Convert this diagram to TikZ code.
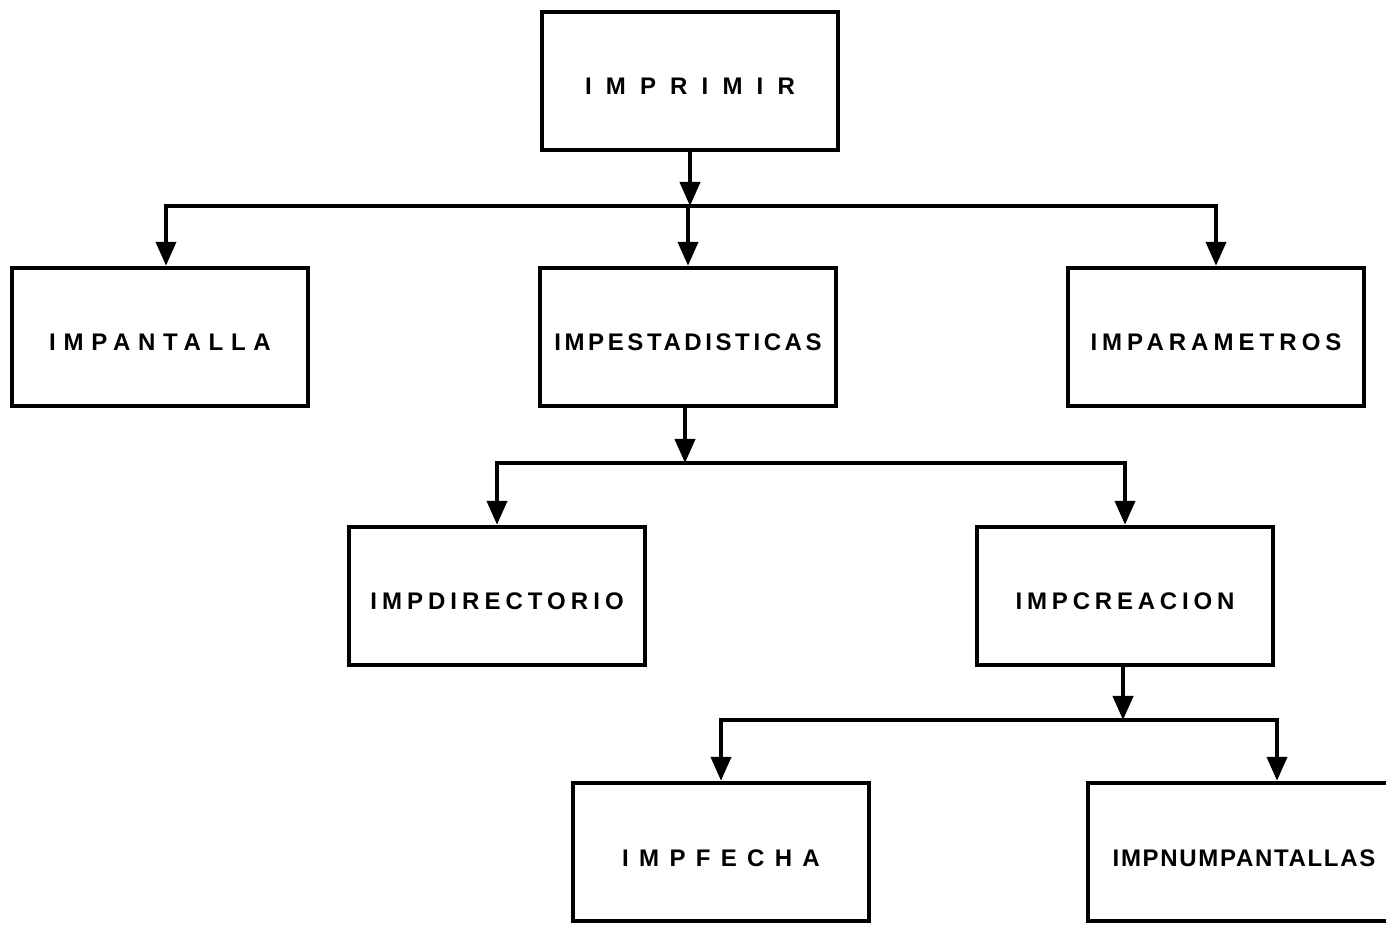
\documentclass[tikz,border=0pt]{standalone}
\usepackage{fontspec}
\newfontfamily\modfont{Liberation Sans}
\usetikzlibrary{arrows.meta}

\begin{document}
\begin{tikzpicture}
		[x=0.5pt,y=-0.5pt,
		modulo/.style={rectangle,draw=black,line width=2.2pt,inner sep=0pt,
minimum width=148pt,minimum height=69pt,text height=14pt,text depth=0pt},
		espacio/.style={font=\modfont\bfseries\fontsize{12}{14}\selectfont\addfontfeatures{LetterSpace=#1}},
		bus/.style={line width=2pt},
		flecha/.style={bus,-{Triangle[length=12pt,width=10pt]}}]
		\clip (0,0) rectangle (1386,929);
		\node at (690, 81) (imprimir) [modulo,espacio=59] {IMPRIMIR};
		\node at (160, 337) (impantalla) [modulo,espacio=32] {IMPANTALLA};
		\node at (688, 337) (impestadisticas) [modulo,espacio=15] {IMPESTADISTICAS};
		\node at (1216, 337) (imparametros) [modulo,espacio=21] {IMPARAMETROS};
		\node at (497, 596) (impdirectorio) [modulo,espacio=21] {IMPDIRECTORIO};
		\node at (1125, 596) (impcreacion) [modulo,espacio=20] {IMPCREACION};
		\node at (721, 852) (impfecha) [modulo,espacio=43] {IMPFECHA};
		\node at (1244, 852) (impnumpantallas) [modulo,minimum width=156pt,espacio=7] {IMPNUMPANTALLAS};
		% primer nivel
		\coordinate (bus1) at (688, 206);
		\draw[flecha] (imprimir) -- (imprimir |- bus1);
		\draw[flecha] (bus1) -| ([xshift=3pt]impantalla.north);
		\draw[flecha] (bus1) -- (impestadisticas);
		\draw[flecha] (bus1) -| (imparametros);
		% segundo nivel
		\coordinate (bus2) at (685, 463);
		\draw[flecha] (impestadisticas.south -| bus2) -- (bus2);
		\draw[flecha] (bus2) -| (impdirectorio);
		\draw[flecha] (bus2) -| (impcreacion);
		% tercer nivel
		\coordinate (bus3) at (1123, 720);
		\draw[flecha] (impcreacion.south -| bus3) -- (bus3);
		\draw[flecha] (bus3) -| (impfecha);
		\draw[flecha] (bus3) -| ([xshift=16.5pt]impnumpantallas.north);
	\end{tikzpicture}
\end{document}
